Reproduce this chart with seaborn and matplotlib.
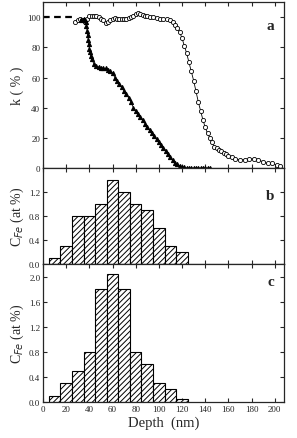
import numpy as np
import pandas as pd
import matplotlib
matplotlib.use('Agg')
import matplotlib.pyplot as plt
import seaborn as sns

# panel a: open circles
circ_depth = [28, 30, 32, 34, 36, 38, 40, 42, 44, 46, 48, 50, 52, 54, 56, 58, 60, 62, 64, 66,
              68, 70, 72, 74, 76, 78, 80, 82, 84, 86, 88, 90, 92, 95, 98, 101, 104, 107, 110, 112,
              114, 116, 118, 120, 122, 124, 126, 128, 130, 132, 134, 136, 138, 140, 142, 144, 146, 148, 150, 152,
              154, 156, 158, 160, 163, 166, 170, 174, 178, 182, 186, 190, 194, 198, 202, 205]
circ_k = [97, 98, 99, 98, 97, 99, 100.5, 101, 100.5, 100.5, 100, 99, 98, 96, 96.5, 98, 99, 99.5, 99, 98.5,
          98.5, 99, 99, 99.5, 100, 101, 102, 102.5, 102, 101.5, 101, 100.5, 100, 100, 99.5, 99, 99, 98.5, 98, 96.5,
          95, 93, 90, 86, 81, 76, 70, 64, 58, 51, 44, 38, 32, 27, 23, 20, 17, 14, 13, 12,
          11, 10, 9, 8, 7, 6, 5.5, 5.5, 6, 6, 5.5, 4, 3, 3, 2, 1.5]

# panel a: filled triangles
tri_depth = [33, 35, 36, 37, 37.5, 38, 38.5, 39, 39.5, 40, 40.5, 41, 42, 44, 46, 48, 50, 52, 54, 56,
             58, 60, 62, 64, 66, 68, 70, 72, 74, 76, 78, 80, 82, 84, 86, 88, 90, 92, 94, 96,
             98, 100, 102, 104, 106, 108, 110, 112, 114, 116, 118, 120, 122, 124, 126, 128, 130, 132, 134, 136,
             138, 140, 142, 144]
tri_k = [98, 99, 98, 97, 94, 91, 88, 85, 82, 79, 77, 74, 72, 69, 67.5, 67, 66.5, 66, 66, 65,
         64, 63, 60, 58, 56, 53.5, 51, 49, 46.5, 43.5, 40, 38, 36, 34, 32, 29.5, 27, 25, 23, 21,
         19, 17, 15, 13.5, 11.5, 9.5, 7, 5, 3.5, 2.5, 1.5, 1, 0.5, 0, 0, 0, 0, 0, 0, 0,
         0, 0, 0, 0]

dash_depth = [0, 27]
dash_k = [100, 100]

# panels b and c: histograms, 10 nm bins centred on 10..120
bin_centres = [10, 20, 30, 40, 50, 60, 70, 80, 90, 100, 110, 120]
cfe_b = [0.1, 0.3, 0.8, 0.8, 1.0, 1.4, 1.2, 1.0, 0.9, 0.6, 0.3, 0.2]
cfe_c = [0.1, 0.3, 0.5, 0.8, 1.8, 2.05, 1.8, 0.8, 0.6, 0.3, 0.2, 0.05]

sns.set_theme(style='ticks')
plt.rcParams['font.family'] = ['Liberation Serif', 'DejaVu Serif']
plt.rcParams['xtick.direction'] = 'in'
plt.rcParams['ytick.direction'] = 'in'
plt.rcParams['hatch.linewidth'] = 0.7

fig = plt.figure(figsize=(2.97, 4.39), dpi=100)
ax_a = fig.add_axes([0.145, 0.615, 0.811, 0.378])
ax_b = fig.add_axes([0.145, 0.396, 0.811, 0.219])
ax_c = fig.add_axes([0.145, 0.082, 0.811, 0.314])

# panel a
sns.lineplot(x=dash_depth, y=dash_k, ax=ax_a, color='black', lw=1.6, linestyle=(0, (3, 2)))
sns.lineplot(x=circ_depth, y=circ_k, ax=ax_a, color='black', lw=0.6, marker='o', markersize=3,
             markerfacecolor='white', markeredgecolor='black', markeredgewidth=0.6)
sns.lineplot(x=tri_depth, y=tri_k, ax=ax_a, color='black', lw=0.6, marker='^', markersize=3,
             markerfacecolor='black', markeredgecolor='black')
ax_a.set_ylim(0, 110)
ax_a.set_yticks([0, 20, 40, 60, 80, 100])
ax_a.set_ylabel('k ( % )', fontsize=10, labelpad=2)
ax_a.text(0.96, 0.84, 'a', transform=ax_a.transAxes, fontsize=11, fontweight='bold', ha='right')

# panels b, c
for ax, vals, top, yt, letter, ly in [(ax_b, cfe_b, 1.6, [0.0, 0.4, 0.8, 1.2], 'b', 0.68),
                                      (ax_c, cfe_c, 2.2, [0.0, 0.4, 0.8, 1.2, 1.6, 2.0], 'c', 0.85)]:
    df = pd.DataFrame({'depth': bin_centres, 'cfe': vals})
    sns.barplot(data=df, x='depth', y='cfe', native_scale=True, width=1, ax=ax,
                color='white', saturation=1, edgecolor='black', linewidth=0.8)
    for p in ax.patches:
        p.set_hatch('//////')
    ax.set_ylim(0, top)
    ax.set_yticks(yt)
    ax.set_yticklabels([f'{v:.1f}' for v in yt])
    ax.set_ylabel('C$_{Fe}$ (at %)', fontsize=10, labelpad=2)
    ax.text(0.96, ly, letter, transform=ax.transAxes, fontsize=11, fontweight='bold', ha='right')

for ax in [ax_a, ax_b, ax_c]:
    ax.set_xlim(0, 208)
    ax.set_xticks(np.arange(0, 201, 20))
    ax.tick_params(axis='both', labelsize=6.5, length=3, width=0.8, top=True, right=True, pad=2)
    for s in ax.spines.values():
        s.set_linewidth(0.9)
    if ax is not ax_c:
        ax.set_xticklabels([])
        ax.set_xlabel('')

ax_c.set_xticklabels([str(v) for v in range(0, 201, 20)])
ax_c.set_xlabel('Depth  (nm)', fontsize=10.5, labelpad=2)

fig.savefig('out.png', dpi=100)
